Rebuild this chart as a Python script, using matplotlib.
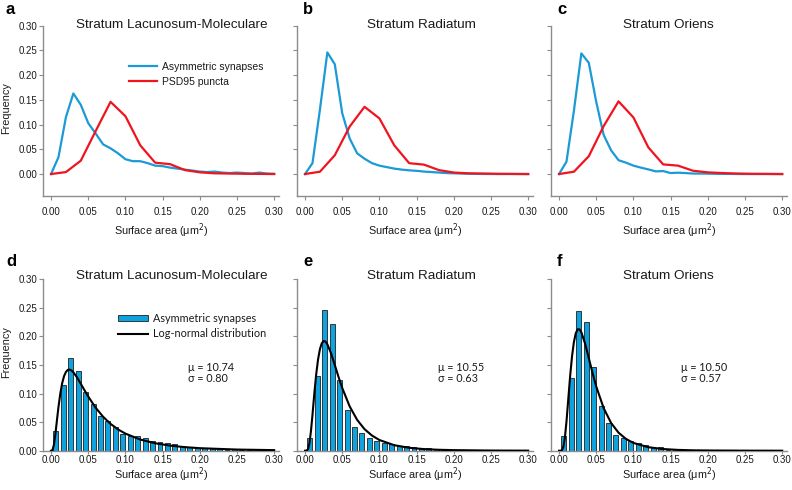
import matplotlib
matplotlib.use('Agg')
import matplotlib.pyplot as plt
from matplotlib.lines import Line2D
from matplotlib.patches import Patch

plt.rcParams['font.family'] = ['Liberation Sans', 'DejaVu Sans']

# ---------------- data ----------------
bin_x = [0.00, 0.01, 0.02, 0.03, 0.04, 0.05, 0.06, 0.07, 0.08, 0.09, 0.10,
         0.11, 0.12, 0.13, 0.14, 0.15, 0.16, 0.17, 0.18, 0.19, 0.20,
         0.21, 0.22, 0.23, 0.24, 0.25, 0.26, 0.27, 0.28, 0.29, 0.30]
psd_x = [0.00, 0.02, 0.04, 0.06, 0.08, 0.10, 0.12, 0.14, 0.16, 0.18, 0.20,
         0.22, 0.24, 0.26, 0.28, 0.30]

asym_slm = [0, 0.034, 0.115, 0.163, 0.140, 0.103, 0.082, 0.060, 0.052, 0.042, 0.030,
            0.026, 0.026, 0.022, 0.017, 0.016, 0.013, 0.011, 0.009, 0.007, 0.005,
            0.004, 0.005, 0.003, 0.002, 0.003, 0.002, 0.001, 0.003, 0.001, 0.0005]
asym_sr = [0, 0.022, 0.130, 0.246, 0.222, 0.123, 0.072, 0.042, 0.031, 0.022, 0.017,
           0.014, 0.011, 0.009, 0.0075, 0.0065, 0.005, 0.004, 0.003, 0.002, 0.0015,
           0.001, 0.0005, 0.0003, 0.0002, 0.0001, 0, 0, 0, 0, 0]
asym_so = [0, 0.025, 0.128, 0.244, 0.225, 0.146, 0.079, 0.048, 0.028, 0.023, 0.017,
           0.013, 0.0094, 0.0054, 0.006, 0.002, 0.0027, 0.002, 0.001, 0.001, 0.0008,
           0.0005, 0.0003, 0.0002, 0.0001, 0, 0, 0, 0, 0, 0]

psd_slm = [0, 0.004, 0.027, 0.087, 0.146, 0.117, 0.058, 0.023, 0.020, 0.008, 0.0035,
           0.0015, 0.001, 0.0005, 0.0003, 0]
psd_sr = [0, 0.0047, 0.038, 0.096, 0.136, 0.1125, 0.058, 0.022, 0.019, 0.008, 0.003,
          0.0015, 0.001, 0.0005, 0.0003, 0]
psd_so = [0, 0.0047, 0.036, 0.097, 0.147, 0.1145, 0.054, 0.0195, 0.017, 0.0067, 0.0034,
          0.002, 0.001, 0.0005, 0.0003, 0]

curve_x = [0.0, 0.002, 0.004, 0.006, 0.008, 0.01, 0.0125, 0.015, 0.0175, 0.02, 0.0225,
           0.025, 0.0275, 0.03, 0.035, 0.04, 0.045, 0.05, 0.06, 0.07, 0.08, 0.09,
           0.10, 0.12, 0.14, 0.16, 0.18, 0.20, 0.25, 0.30]
curve_slm = [0.0, 0.0011, 0.0111, 0.0307, 0.054, 0.0765, 0.1004, 0.1183, 0.1305, 0.1378,
             0.1414, 0.142, 0.1404, 0.1373, 0.1282, 0.1171, 0.1058, 0.0948, 0.0752, 0.0594,
             0.047, 0.0373, 0.0299, 0.0195, 0.013, 0.0089, 0.0062, 0.0044, 0.0020, 0.0010]
curve_sr = [0.0, 0.0001, 0.0025, 0.0134, 0.0347, 0.0627, 0.1001, 0.1336, 0.1597, 0.1777,
            0.188, 0.192, 0.191, 0.1864, 0.1703, 0.15, 0.1292, 0.1098, 0.0775, 0.0541,
            0.0377, 0.0265, 0.0187, 0.0096, 0.0051, 0.0028, 0.0016, 0.001, 0.0003, 0.0001]
curve_so = [0.0, 0.0, 0.0009, 0.0075, 0.0243, 0.0509, 0.0914, 0.1317, 0.1655, 0.1902,
            0.2055, 0.2124, 0.2124, 0.2073, 0.1876, 0.1621, 0.1362, 0.1124, 0.0744, 0.0485,
            0.0315, 0.0206, 0.0136, 0.0061, 0.0029, 0.0014, 0.0007, 0.0004, 0.0001, 0.0]

titles = ['Stratum Lacunosum-Moleculare', 'Stratum Radiatum', 'Stratum Oriens']
letters_top = ['a', 'b', 'c']
letters_bot = ['d', 'e', 'f']
mu_vals = ['10.74', '10.55', '10.50']
sigma_vals = ['0.80', '0.63', '0.57']
x_ticks = [0.00, 0.05, 0.10, 0.15, 0.20, 0.25, 0.30]
y_ticks = [0.00, 0.05, 0.10, 0.15, 0.20, 0.25, 0.30]
tick_labels = ['0.00', '0.05', '0.10', '0.15', '0.20', '0.25', '0.30']

asym = [asym_slm, asym_sr, asym_so]
psd = [psd_slm, psd_sr, psd_so]
curves = [curve_slm, curve_sr, curve_so]

# ---------------- style ----------------
W, H = 792, 490
BLUE = '#1b9ad6'
RED = '#f0141e'
BAR = '#0ea3df'
SPINE = '#8c8c8c'
TXT = '#1a1a1a'

fig = plt.figure(figsize=(W / 100, H / 100), dpi=100)


def px_axes(left, top, right, bottom):
    return fig.add_axes([left / W, 1 - bottom / H, (right - left) / W, (bottom - top) / H])


def style(ax, show_ylab):
    for s in ['top', 'right']:
        ax.spines[s].set_visible(False)
    for s in ['left', 'bottom']:
        ax.spines[s].set_color(SPINE)
        ax.spines[s].set_linewidth(1.0)
    ax.set_xticks(x_ticks)
    ax.set_xticklabels(tick_labels)
    ax.set_yticks(y_ticks)
    ax.set_yticklabels(tick_labels if show_ylab else [])
    ax.tick_params(colors=SPINE, labelcolor=TXT, labelsize=7, width=0.8)
    ax.tick_params(axis='y', length=3, pad=1)


lefts = [43, 297, 551]
XL = (-0.0108, 0.307)
WIDTH = 236.4
title_x = [172, 421, 668]
stat_x = [0.184, 0.179, 0.164]

for i in range(3):
    # ---- top row ----
    ax = px_axes(lefts[i], 25.7, lefts[i] + WIDTH, 196.3)
    l1, = ax.plot(bin_x, asym[i], color=BLUE, lw=1.6, label='Asymmetric synapses', zorder=3)
    l2, = ax.plot(psd_x, psd[i], color=RED, lw=1.6, label='PSD95 puncta', zorder=4)
    ax.set_xlim(*XL)
    ax.set_ylim(-0.045, 0.30)
    style(ax, i == 0)
    ax.tick_params(axis='x', length=3, pad=5)
    ax.set_xlabel('Surface area (\u03bcm$^2$)', fontsize=7.8, color=TXT)
    ax.xaxis.set_label_coords(0.5, -0.148)
    if i == 0:
        ax.set_ylabel('Frequency', fontsize=7.8, color=TXT)
        ax.yaxis.set_label_coords(-0.135, 0.52)
        leg = ax.legend(handles=[l1, l2], loc='upper left',
                        bbox_to_anchor=(129 / W, 1 - 62 / H),
                        bbox_transform=fig.transFigure, frameon=False, fontsize=7.5,
                        handlelength=2.7, handletextpad=0.45, labelspacing=0.45,
                        borderpad=0, borderaxespad=0)
        for t in leg.get_texts():
            t.set_color(TXT)
    fig.text(title_x[i] / W, 1 - 25 / H, titles[i], ha='center', va='center',
             fontsize=9.7, color=TXT)
    fig.text((lefts[i] - 37 if i == 0 else lefts[i] + 6) / W, 1 - 9 / H, letters_top[i],
             fontsize=12, fontweight='bold', ha='left', va='center', color='black')

    # ---- bottom row ----
    ax2 = px_axes(lefts[i], 279.3, lefts[i] + WIDTH, 450.7)
    bars = ax2.bar([x - 0.0035 for x in bin_x[1:]], asym[i][1:], width=0.0066, color=BAR,
                   edgecolor='#202020', linewidth=0.6, label='Asymmetric synapses', zorder=2)
    c1, = ax2.plot(curve_x, curves[i], color='black', lw=1.5, label='Log-normal distribution',
                   zorder=3)
    ax2.set_xlim(*XL)
    ax2.set_ylim(0, 0.30)
    style(ax2, i == 0)
    ax2.tick_params(axis='x', length=2, pad=0.8)
    ax2.set_xlabel('Surface area (\u03bcm$^2$)', fontsize=7.8, color=TXT)
    ax2.xaxis.set_label_coords(0.5, -0.085)
    ax2.text(stat_x[i], 0.1456, '\u03bc = ' + mu_vals[i],
             fontsize=7.8, family='Lato', color=TXT, va='center', ha='left')
    ax2.text(stat_x[i], 0.1255, '\u03c3 = ' + sigma_vals[i],
             fontsize=7.8, family='Lato', color=TXT, va='center', ha='left')
    if i == 0:
        ax2.set_ylabel('Frequency', fontsize=7.8, color=TXT)
        ax2.yaxis.set_label_coords(-0.135, 0.576)
        leg2 = ax2.legend(handles=[bars, c1], loc='upper left',
                          bbox_to_anchor=(118 / W, 1 - 313 / H),
                          bbox_transform=fig.transFigure, frameon=False,
                          prop={'family': 'Lato', 'size': 7.8},
                          handlelength=2.8, handleheight=0.5, handletextpad=0.45,
                          labelspacing=0.4, borderpad=0, borderaxespad=0)
        for t in leg2.get_texts():
            t.set_color(TXT)
    fig.text(title_x[i] / W, 1 - 276 / H, titles[i], ha='center', va='center',
             fontsize=9.7, color=TXT)
    fig.text((lefts[i] - 37 if i == 0 else lefts[i] + 6) / W, 1 - 262 / H, letters_bot[i],
             fontsize=12, fontweight='bold', ha='left', va='center', color='black')

fig.savefig('out.png', dpi=100)
